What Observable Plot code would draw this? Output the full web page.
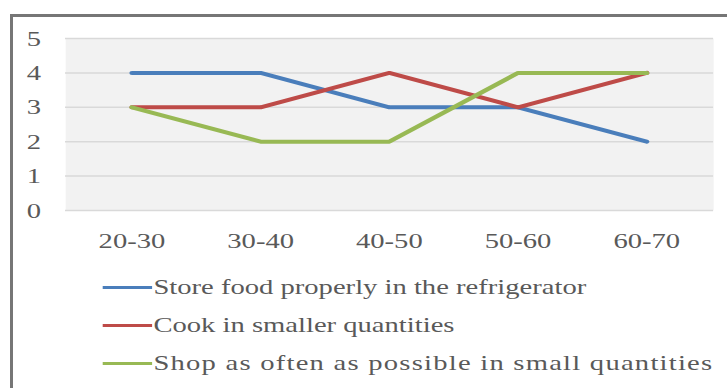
<!DOCTYPE html>
<html>
<head>
<meta charset="utf-8">
<script src="https://cdn.jsdelivr.net/npm/d3@7"></script>
<script src="https://cdn.jsdelivr.net/npm/@observablehq/plot@0.6"></script>
<style>
  html, body { margin: 0; padding: 0; background: #fff; width: 727px; height: 388px; overflow: hidden; }
  #frameTop { position: absolute; left: 10px; right: 0; top: 14px; height: 3px; background: #767676; }
  #frameLeft { position: absolute; left: 10px; top: 14px; bottom: 0; width: 3px; background: #767676; }
  /* the chart is laid out narrow and widened, as in the printed figure */
  #stage { position: absolute; left: 0; top: 0; width: 559px; height: 388px;
           transform: scaleX(1.3); transform-origin: 0 0;
           font-family: "Liberation Serif", "Times New Roman", serif; color: #595959; }
  #legend { position: absolute; left: 79px; top: 268px; font-size: 22px; }
  .item { display: flex; align-items: center; height: 38px; white-space: nowrap; }
  .item:nth-child(3) span:last-child { letter-spacing: 0.95px; }
  .swatch { width: 38px; height: 3px; margin-right: 1px; }
</style>
</head>
<body>
<div id="frameTop"></div>
<div id="frameLeft"></div>
<div id="stage">
  <div id="chart"></div>
  <div id="legend"></div>
</div>
<script>
// Age groups of respondents
const ageGroups = ["20-30", "30-40", "40-50", "50-60", "60-70"];

// Series names and colours
const seriesNames = [
  "Store food properly in the refrigerator",
  "Cook in smaller quantities",
  "Shop as often as possible in small quantities"
];
const seriesColors = ["#4a7ebb", "#be4b48", "#98b954"];

// Scores per age group
const storeFood = [4, 4, 3, 3, 2];
const cookSmaller = [3, 3, 4, 3, 4];
const shopOften = [3, 2, 2, 4, 4];

const yTicks = [0, 1, 2, 3, 4, 5];

const seriesValues = [storeFood, cookSmaller, shopOften];
const rows = seriesValues.flatMap((vals, i) =>
  vals.map((v, j) => ({ age: ageGroups[j], value: v, series: seriesNames[i] }))
);

const chart = Plot.plot({
  width: 559,
  height: 255,
  marginLeft: 50,
  marginRight: 10.5,
  marginTop: 38,
  marginBottom: 45,
  style: { fontFamily: "'Liberation Serif', 'Times New Roman', serif", fontSize: "22px", color: "#595959", background: "transparent" },
  x: { type: "point", domain: ageGroups, padding: 0.5 },
  y: { domain: [0, 5] },
  color: { domain: seriesNames, range: seriesColors },
  marks: [
    Plot.frame({ fill: "#f2f2f2", stroke: null }),
    Plot.ruleY(yTicks, { stroke: "#d9d9d9", strokeWidth: 1.5 }),
    Plot.axisY({ ticks: yTicks, tickFormat: "d", tickSize: 0, tickPadding: 19, label: null }),
    Plot.axisX({ tickSize: 0, tickPadding: 22, label: null }),
    Plot.line(rows, {
      x: "age", y: "value", z: "series", stroke: "series",
      strokeWidth: 4, strokeLinejoin: "round", strokeLinecap: "round"
    })
  ]
});
document.getElementById("chart").appendChild(chart);

// Legend below the chart
const legend = document.getElementById("legend");
seriesNames.forEach((name, i) => {
  const item = document.createElement("div");
  item.className = "item";
  const sw = document.createElement("span");
  sw.className = "swatch";
  sw.style.background = seriesColors[i];
  const label = document.createElement("span");
  label.textContent = name;
  item.appendChild(sw);
  item.appendChild(label);
  legend.appendChild(item);
});
</script>
</body>
</html>
